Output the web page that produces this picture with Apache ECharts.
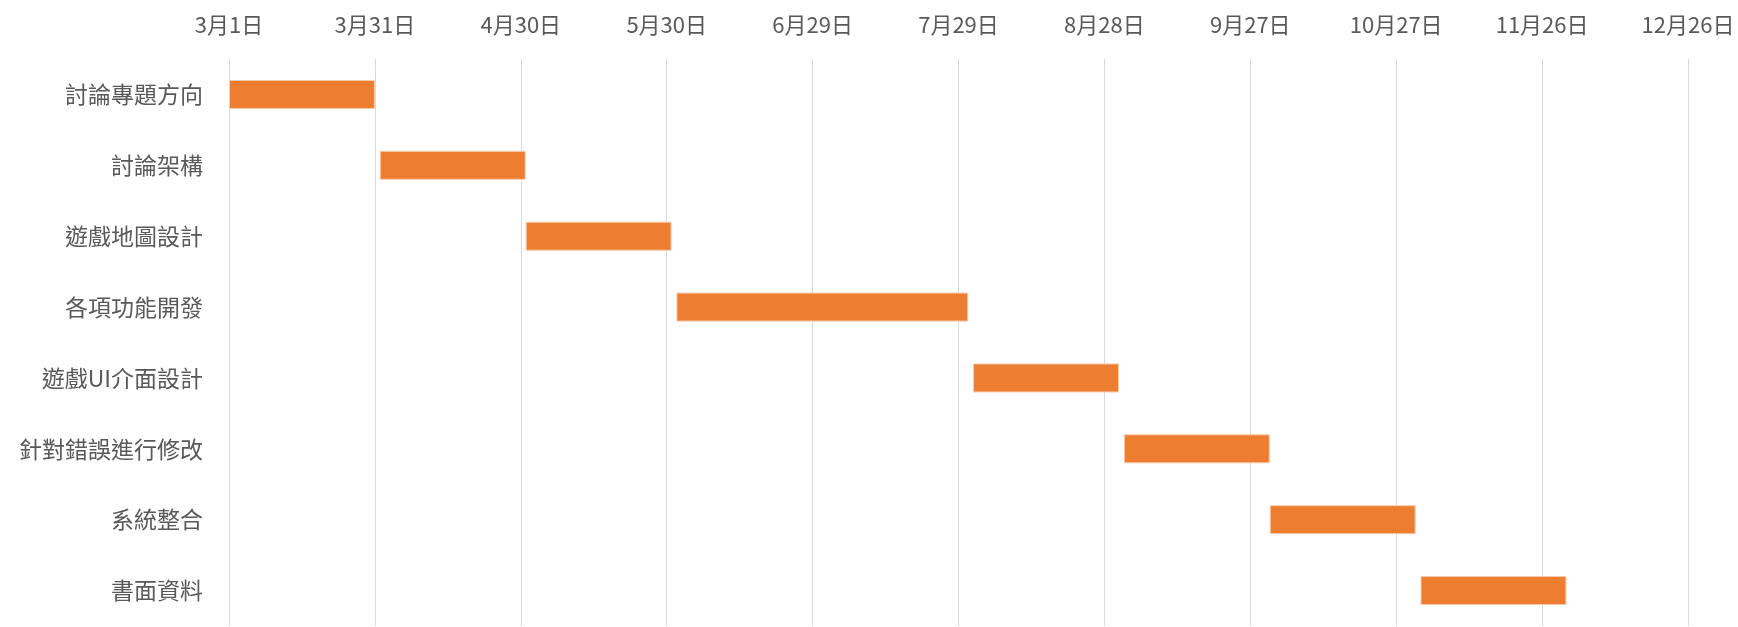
<!DOCTYPE html>
<html>
<head>
<meta charset="utf-8">
<script src="https://cdn.jsdelivr.net/npm/echarts@6/dist/echarts.min.js"></script>
<style>
html,body{margin:0;padding:0;background:#fff;}
#chart{width:1738px;height:627px;}
</style>
</head>
<body>
<div id="chart"></div>
<script>
const categories = ['討論專題方向','討論架構','遊戲地圖設計','各項功能開發','遊戲UI介面設計','針對錯誤進行修改','系統整合','書面資料'];
// days offset from 3月1日
const startDays = [0, 31, 61, 92, 153, 184, 214, 245];
const durations = [30, 30, 30, 60, 30, 30, 30, 30];
const tickLabels = ['3月1日','3月31日','4月30日','5月30日','6月29日','7月29日','8月28日','9月27日','10月27日','11月26日','12月26日'];

const chart = echarts.init(document.getElementById('chart'));
const font = '"Noto Sans CJK TC", "Noto Sans CJK SC", sans-serif';
chart.setOption({
  animation: false,
  backgroundColor: '#ffffff',
  grid: {left: 229, right: 50, top: 59, bottom: 1, containLabel: false},
  xAxis: {
    type: 'value',
    position: 'top',
    min: 0,
    max: 300,
    interval: 30,
    axisLine: {show: false},
    axisTick: {show: false},
    splitLine: {show: true, lineStyle: {color: '#D9D9D9', width: 1}},
    axisLabel: {
      color: '#595959',
      fontSize: 22,
      fontFamily: font,
      margin: 23,
      formatter: v => tickLabels[Math.round(v / 30)] || ''
    }
  },
  yAxis: {
    type: 'category',
    data: categories,
    inverse: true,
    axisLine: {show: false},
    axisTick: {show: false},
    splitLine: {show: false},
    axisLabel: {color: '#595959', fontSize: 23, fontFamily: font, margin: 26}
  },
  series: [
    {
      type: 'bar',
      stack: 'g',
      data: startDays,
      barWidth: 29,
      itemStyle: {color: 'rgba(0,0,0,0)'},
      silent: true
    },
    {
      type: 'bar',
      stack: 'g',
      data: durations,
      barWidth: 29,
      itemStyle: {color: '#ED7D31', borderColor: '#F8CBAD', borderWidth: 1}
    }
  ]
});
</script>
</body>
</html>
